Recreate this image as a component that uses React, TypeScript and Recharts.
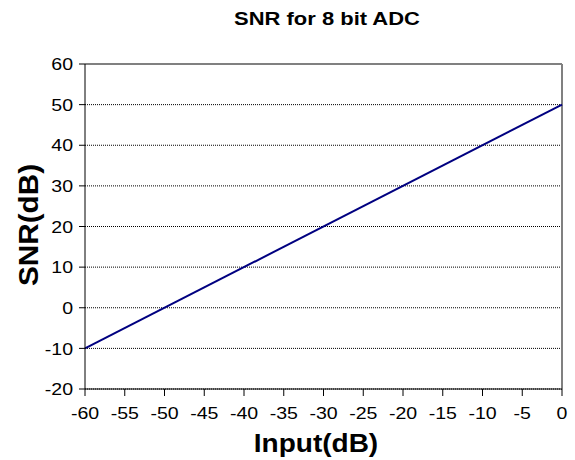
import React from "react";
import { CartesianGrid, Line, LineChart, ReferenceLine, XAxis, YAxis } from "recharts";

// values
const inputDb = [-60, 0];
const snrDb = [-10, 50];
const xTicks = [-60, -55, -50, -45, -40, -35, -30, -25, -20, -15, -10, -5, 0];
const yTicks = [-20, -10, 0, 10, 20, 30, 40, 50, 60];

const data = inputDb.map((x, i) => ({ input: x, snr: snrDb[i] }));

const FONT = "'Liberation Sans', Arial, sans-serif";
// the reference text is a little wider than plain Arial
const STRETCH = 1.15;

function XTick({ x, y, payload }: any) {
  return (
    <g transform={`translate(${x},${y})`}>
      <text
        transform={`scale(${STRETCH},1)`}
        textAnchor="middle"
        dy="0.71em"
        fontSize={17}
        fontFamily={FONT}
        fill="#000"
      >
        {payload.value}
      </text>
    </g>
  );
}

function YTick({ x, y, payload }: any) {
  return (
    <g transform={`translate(${x},${y})`}>
      <text
        transform={`scale(${STRETCH},1)`}
        textAnchor="end"
        dy="0.36em"
        fontSize={17}
        fontFamily={FONT}
        fill="#000"
      >
        {payload.value}
      </text>
    </g>
  );
}

const labelStyle: React.CSSProperties = {
  position: "absolute",
  fontFamily: FONT,
  fontWeight: "bold",
  color: "#000",
  whiteSpace: "nowrap",
  lineHeight: 1,
};

export default function App() {
  return (
    <div style={{ position: "absolute", left: 0, top: 0, width: 575, height: 460, background: "#fff" }}>
      <LineChart width={575} height={460} data={data} margin={{ top: 64, right: 13, bottom: 41, left: 0 }}>
        <CartesianGrid vertical={false} stroke="#000" strokeDasharray="1 1" />
        <XAxis
          type="number"
          dataKey="input"
          domain={[-60, 0]}
          ticks={xTicks}
          interval={0}
          height={30}
          tickSize={7}
          tickMargin={11}
          stroke="#000"
          tick={<XTick />}
        />
        <YAxis
          type="number"
          domain={[-20, 60]}
          ticks={yTicks}
          interval={0}
          width={85}
          tickSize={6}
          tickMargin={6}
          stroke="#000"
          tick={<YTick />}
        />
        <ReferenceLine y={60} stroke="#808080" strokeWidth={2} />
        <ReferenceLine x={0} stroke="#808080" strokeWidth={2} />
        <Line
          type="linear"
          dataKey="snr"
          stroke="#000080"
          strokeWidth={2}
          dot={false}
          isAnimationActive={false}
        />
      </LineChart>
      <div style={{ ...labelStyle, left: 327, top: 19, fontSize: 18, transform: "translate(-50%,-50%) scaleX(1.22)" }}>
        SNR for 8 bit ADC
      </div>
      <div style={{ ...labelStyle, left: 316, top: 443, fontSize: 25, transform: "translate(-50%,-50%) scaleX(1.12)" }}>
        Input(dB)
      </div>
      <div style={{ ...labelStyle, left: 29, top: 225, fontSize: 27, transform: "translate(-50%,-50%) rotate(-90deg) scaleX(1.1)" }}>
        SNR(dB)
      </div>
    </div>
  );
}
